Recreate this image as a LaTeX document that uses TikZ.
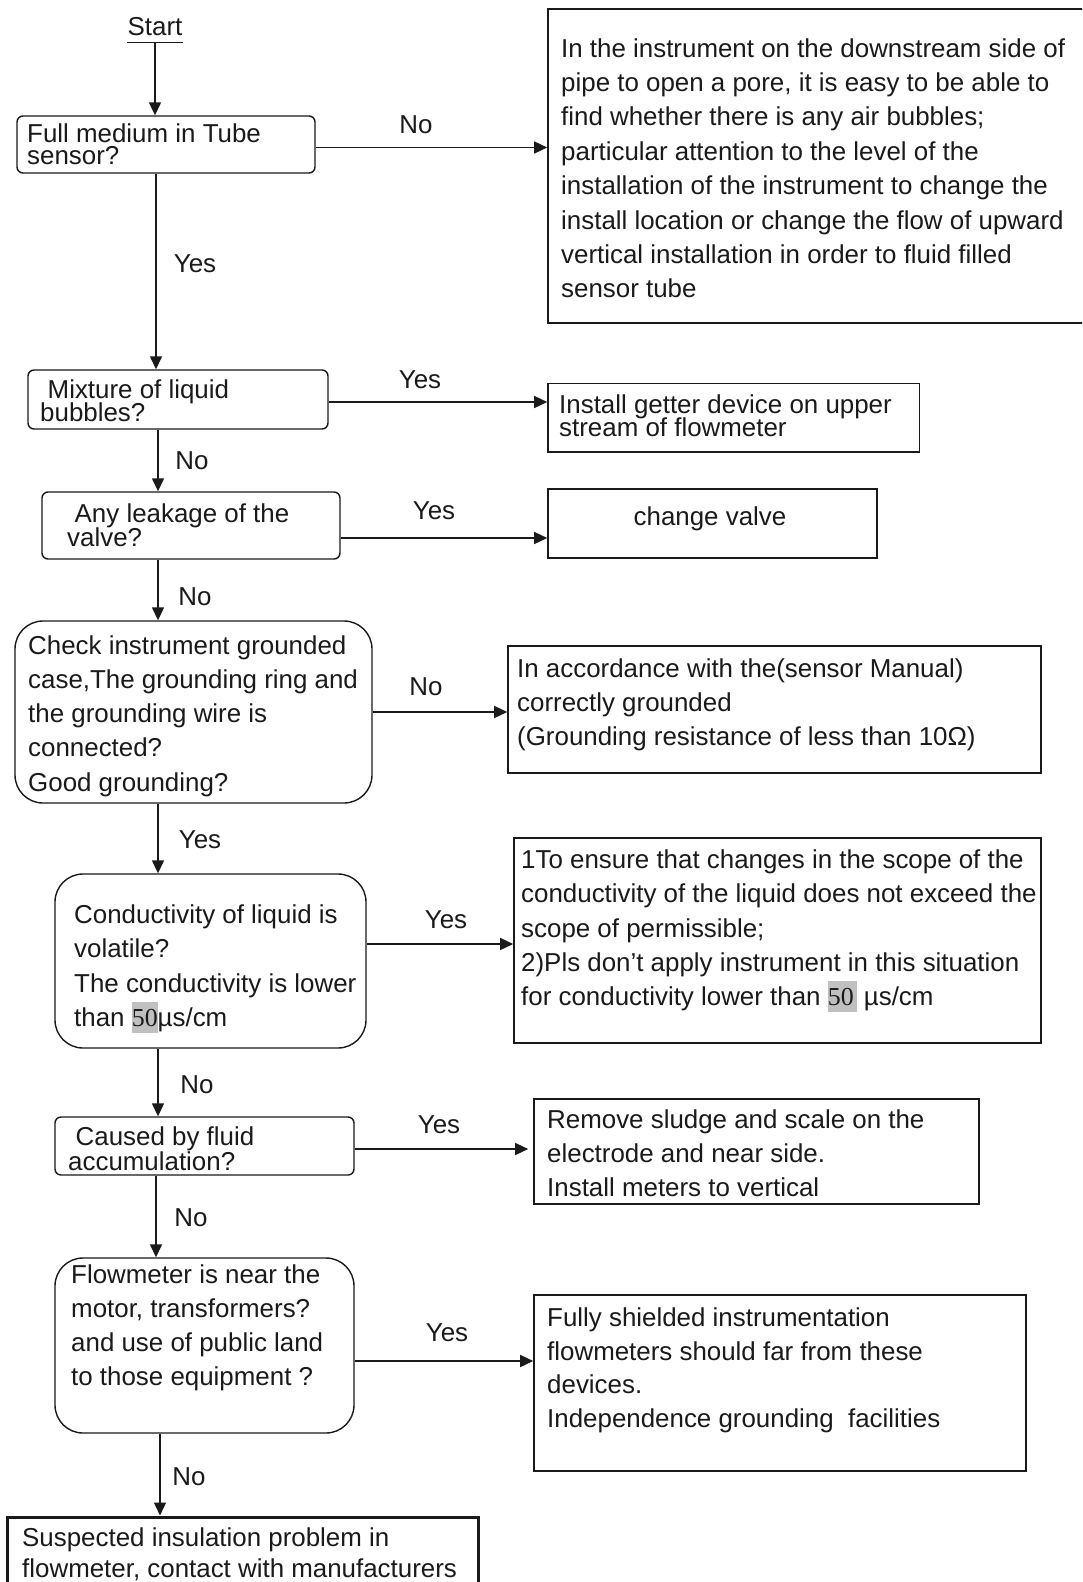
\documentclass[tikz,border=0pt]{standalone}
\usepackage{fontspec}
\setmainfont{Liberation Sans}
\newfontfamily\serifnum{Liberation Serif}
\usetikzlibrary{arrows.meta}
\definecolor{ink}{HTML}{1A1A1A}
\definecolor{hlgray}{HTML}{C0C0C0}
\newcommand\mlines[2]{\vtop{\baselineskip=#1\lineskiplimit=-1000pt\lineskip=0pt\halign{##\hfil\cr#2\crcr}}}
\newcommand\hlnum[2][0pt]{\setbox0\hbox{\serifnum #2}\rlap{\textcolor{hlgray}{\rule[-6pt]{\dimexpr\wd0+#1\relax}{31pt}}}\box0\hspace{#1}}
\tikzset{
  rbox/.style={draw=ink, line width=1.4pt, rounded corners=6pt, inner sep=0pt},
  bigr/.style={draw=ink, line width=1.4pt, rounded corners=28pt, inner sep=0pt},
  sbox/.style={draw=ink, line width=1.6pt, inner sep=0pt},
  arr/.style={draw=ink, line width=1.4pt, -{Triangle[length=13pt,width=12pt]}},
  lbl/.style={inner sep=0pt, text=ink},
  txt/.style={anchor=base west, inner sep=0pt, text=ink},
  every node/.style={font=\fontsize{25.9pt}{34.4pt}\selectfont}
}
\begin{document}
\begin{tikzpicture}[x=1pt,y=-1pt]
\clip (0,0) rectangle (1082,1582);
\fill[white] (0,0) rectangle (1082,1582);
% start
\node[lbl] (start) at (155,27) {Start};
\draw[ink, line width=1.4pt] ([yshift=-6pt]start.south west) -- ([yshift=-6pt]start.south east);
% boxes
\node[rbox, minimum width=298pt, minimum height=57pt] (b1) at (166,144.5) {};
\node[sbox, minimum width=542pt, minimum height=314pt] (r1) at (819,166) {};
\node[rbox, minimum width=300pt, minimum height=59pt] (b2) at (178,399.5) {};
\node[sbox, minimum width=371.5pt, minimum height=68.5pt] (r2) at (733.75,417.75) {};
\node[rbox, minimum width=298pt, minimum height=67pt] (b3) at (191,525.5) {};
\node[sbox, minimum width=329pt, minimum height=69pt] (r3) at (712.5,523.5) {};
\node[bigr, minimum width=357pt, minimum height=182pt] (b4) at (193.5,712) {};
\node[sbox, minimum width=533pt, minimum height=127pt] (r4) at (774.5,709.5) {};
\node[bigr, minimum width=311pt, minimum height=174pt] (b5) at (210.5,961) {};
\node[sbox, minimum width=527pt, minimum height=205pt] (r5) at (777.5,940.5) {};
\node[rbox, minimum width=299pt, minimum height=58pt] (b6) at (204.5,1146) {};
\node[sbox, minimum width=445pt, minimum height=105pt] (r6) at (756.5,1151.5) {};
\node[bigr, minimum width=299pt, minimum height=175pt] (b7) at (204.5,1345.5) {};
\node[sbox, minimum width=492pt, minimum height=176pt] (r7) at (780,1383) {};
\node[draw=ink, line width=3pt, inner sep=0pt, minimum width=471pt, minimum height=83pt] (b8) at (242.5,1558.5) {};
% texts
\node[txt] (t1) at (27,142) {\mlines{22pt}{Full medium in Tube\cr sensor?}};
\node[txt] (tr1) at (561,57) {\mlines{34.4pt}{In the instrument on the downstream side of\cr
pipe to open a pore, it is easy to be able to\cr
find whether there is any air bubbles;\cr
particular attention to the level of the\cr
installation of the instrument to change the\cr
install location or change the flow of upward\cr
vertical installation in order to fluid filled\cr
sensor tube}};
\node[txt] (t2) at (40,398) {\mlines{23pt}{\kern7.5pt Mixture of liquid\cr bubbles?}};
\node[txt] (tr2) at (559,413.5) {\mlines{23pt}{Install getter device on upper\cr stream of flowmeter}};
\node[txt] (t3) at (67,522.5) {\mlines{24pt}{\kern7.5pt Any leakage of the\cr valve?}};
\node[lbl] (tr3) at (710,519) {change valve};
\node[txt] (t4) at (28,654) {\mlines{34.3pt}{Check instrument grounded\cr
case,The grounding ring and\cr
the grounding wire is\cr
connected?\cr
Good grounding?}};
\node[txt] (tr4) at (517,677.5) {\mlines{34pt}{In accordance with the(sensor Manual)\cr
correctly grounded\cr
(Grounding resistance of less than 10Ω)}};
\node[txt] (t5) at (74,923.5) {\mlines{34.4pt}{Conductivity of liquid is\cr
volatile?\cr
The conductivity is lower\cr
than \hlnum{50}µs/cm}};
\node[txt] (tr5) at (521,868.5) {\mlines{34.3pt}{1To ensure that changes in the scope of the\cr
conductivity of the liquid does not exceed the\cr
scope of permissible;\cr
2)Pls don’t apply instrument in this situation\cr
for conductivity lower than \hlnum[3pt]{50} µs/cm}};
\node[txt] (t6) at (68,1145.5) {\mlines{25pt}{\kern7.5pt Caused by fluid\cr accumulation?}};
\node[txt] (tr6) at (547,1128.5) {\mlines{34pt}{Remove sludge and scale on the\cr
electrode and near side.\cr
Install meters to vertical}};
\node[txt] (t7) at (71,1283.5) {\mlines{34pt}{Flowmeter is near the\cr
motor, transformers?\cr
and use of public land\cr
to those equipment ?}};
\node[txt] (tr7) at (547,1326.5) {\mlines{33.7pt}{Fully shielded instrumentation\cr
flowmeters should far from these\cr
devices.\cr
Independence grounding\ \ facilities}};
\node[txt] (t8) at (22,1546.5) {\mlines{31.3pt}{Suspected insulation problem in\cr
flowmeter, contact with manufacturers}};
% axis coordinates
\coordinate (x156) at (156,0);
\coordinate (x158) at (158,0);
\coordinate (x160) at (160,0);
\coordinate (y1) at (0,147.5);
\coordinate (y2) at (0,402);
\coordinate (y3) at (0,538);
\coordinate (y4) at (0,712);
\coordinate (y5) at (0,944);
\coordinate (y6) at (0,1149);
\coordinate (y7) at (0,1361);
% vertical connectors
\draw[arr] ([yshift=-6pt]start.south) -- (start.south |- b1.north);
\draw[arr] (b1.south -| x156) -- (b2.north -| x156);
\draw[arr] (b2.south -| x158) -- (b3.north -| x158);
\draw[arr] (b3.south -| x158) -- (b4.north -| x158);
\draw[arr] (b4.south -| x158) -- (b5.north -| x158);
\draw[arr] (b5.south -| x158) -- (b6.north -| x158);
\draw[arr] (b6.south -| x156) -- (b7.north -| x156);
\draw[arr] (b7.south -| x160) -- (b8.north -| x160);
% horizontal connectors
\draw[arr] (b1.east |- y1) -- (r1.west |- y1);
\draw[arr] (b2.east |- y2) -- (r2.west |- y2);
\draw[arr] (b3.east |- y3) -- (r3.west |- y3);
\draw[arr] (b4.east |- y4) -- (r4.west |- y4);
\draw[arr] (b5.east |- y5) -- (r5.west |- y5);
\draw[arr, shorten >=5pt] (b6.east |- y6) -- (r6.west |- y6);
\draw[arr] (b7.east |- y7) -- (r7.west |- y7);
% labels
\node[lbl] (l1) at (416,125) {No};
\node[lbl] (l2) at (195,264) {Yes};
\node[lbl] (l3) at (420,380) {Yes};
\node[lbl] (l4) at (192,461) {No};
\node[lbl] (l5) at (434,511) {Yes};
\node[lbl] (l6) at (195,597) {No};
\node[lbl] (l7) at (426,687) {No};
\node[lbl] (l8) at (200,840) {Yes};
\node[lbl] (l9) at (446,920) {Yes};
\node[lbl] (l10) at (197,1085) {No};
\node[lbl] (l11) at (439,1125) {Yes};
\node[lbl] (l12) at (191,1218) {No};
\node[lbl] (l13) at (447,1333) {Yes};
\node[lbl] (l14) at (189,1477) {No};
\end{tikzpicture}
\end{document}
